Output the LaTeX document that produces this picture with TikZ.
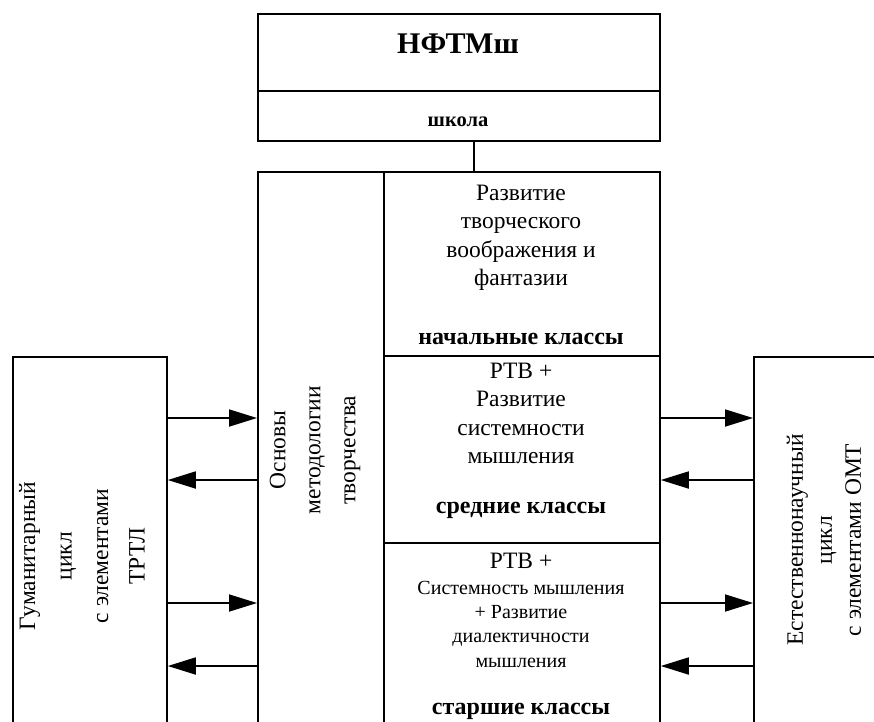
\documentclass[tikz,border=0pt]{standalone}
\usepackage{fontspec}
\setmainfont{Liberation Serif}
\usetikzlibrary{arrows.meta}

\begin{document}
\begin{tikzpicture}[x=1pt, y=-1pt, line width=1.8pt,
    box/.style={draw, inner sep=0pt, anchor=north west},
    txt/.style={inner sep=0pt, align=center, font=\fontsize{23.5}{28.5}\selectfont},
    small/.style={inner sep=0pt, align=center, font=\fontsize{20}{24.4}\selectfont},
    side/.style={inner sep=0pt, align=center, rotate=90},
    level/.style={inner sep=0pt, anchor=base, font=\fontsize{24}{28}\bfseries},
    flow/.style={-{Triangle[length=28pt, width=17pt]}}]
    \useasboundingbox (0,0) rectangle (874,721);
    \clip (0,0) rectangle (874,721);

    % school block
    \node[box, minimum width=402pt, minimum height=77pt] (top) at (257,13) {};
    \node[box, minimum width=402pt, minimum height=50pt] (school) at (257,90) {};
    \node[inner sep=0pt, anchor=base, font=\fontsize{30}{36}\bfseries] (toptxt) at (458,53) {НФТМш};
    \node[inner sep=0pt, anchor=base, font=\fontsize{20.5}{24}\bfseries] (schooltxt) at (458,126) {школа};

    % methodology column and the three levels
    \node[box, minimum width=126pt, minimum height=590pt] (method) at (257,171) {};
    \node[box, minimum width=276pt, minimum height=184pt] (primary) at (383,171) {};
    \node[box, minimum width=276pt, minimum height=187pt] (middle) at (383,355) {};
    \node[box, minimum width=276pt, minimum height=220pt] (senior) at (383,542) {};
    \coordinate (link) at (474,171);
    \draw (school.south -| link) -- (link);

    \node[side, font=\fontsize{23.5}{35}\selectfont] (methodtxt) at (315,450) {Основы\\методологии\\творчества};

    \node[txt, anchor=north] (primarytxt) at (521,184) {Развитие\\творческого\\воображения и\\фантазии};
    \node[level] (primarylbl) at (521,344) {начальные классы};

    \node[txt, anchor=north] (middletxt) at (521,362) {РТВ +\\Развитие\\системности\\мышления};
    \node[level] (middlelbl) at (521,513) {средние классы};

    \node[txt, anchor=base] (seniorhead) at (521,568) {РТВ +};
    \node[small, anchor=north] (seniortxt) at (521,580) {Системность мышления\\+ Развитие\\диалектичности\\мышления};
    \node[level] (seniorlbl) at (521,714) {старшие классы};

    % side cycles
    \node[box, minimum width=154pt, minimum height=405pt] (hum) at (12,356) {};
    \node[box, minimum width=150pt, minimum height=405pt] (nat) at (753,356) {};
    \node[side, font=\fontsize{23.5}{36.5}\selectfont] (humtxt) at (82,556) {Гуманитарный\\цикл\\с элементами\\ТРТЛ};
    \node[side, font=\fontsize{23.5}{29}\selectfont] (nattxt) at (824,540) {Естественнонаучный\\цикл\\с элементами ОМТ};

    % links both ways
    \coordinate (in1) at (0,418);
    \coordinate (out1) at (0,480);
    \coordinate (in2) at (0,603);
    \coordinate (out2) at (0,666);
    \draw[flow] (hum.east |- in1) -- (method.west |- in1);
    \draw[flow] (method.west |- out1) -- (hum.east |- out1);
    \draw[flow] (hum.east |- in2) -- (method.west |- in2);
    \draw[flow] (method.west |- out2) -- (hum.east |- out2);
    \draw[flow] (middle.east |- in1) -- (nat.west |- in1);
    \draw[flow] (nat.west |- out1) -- (middle.east |- out1);
    \draw[flow] (senior.east |- in2) -- (nat.west |- in2);
    \draw[flow] (nat.west |- out2) -- (senior.east |- out2);
\end{tikzpicture}
\end{document}
